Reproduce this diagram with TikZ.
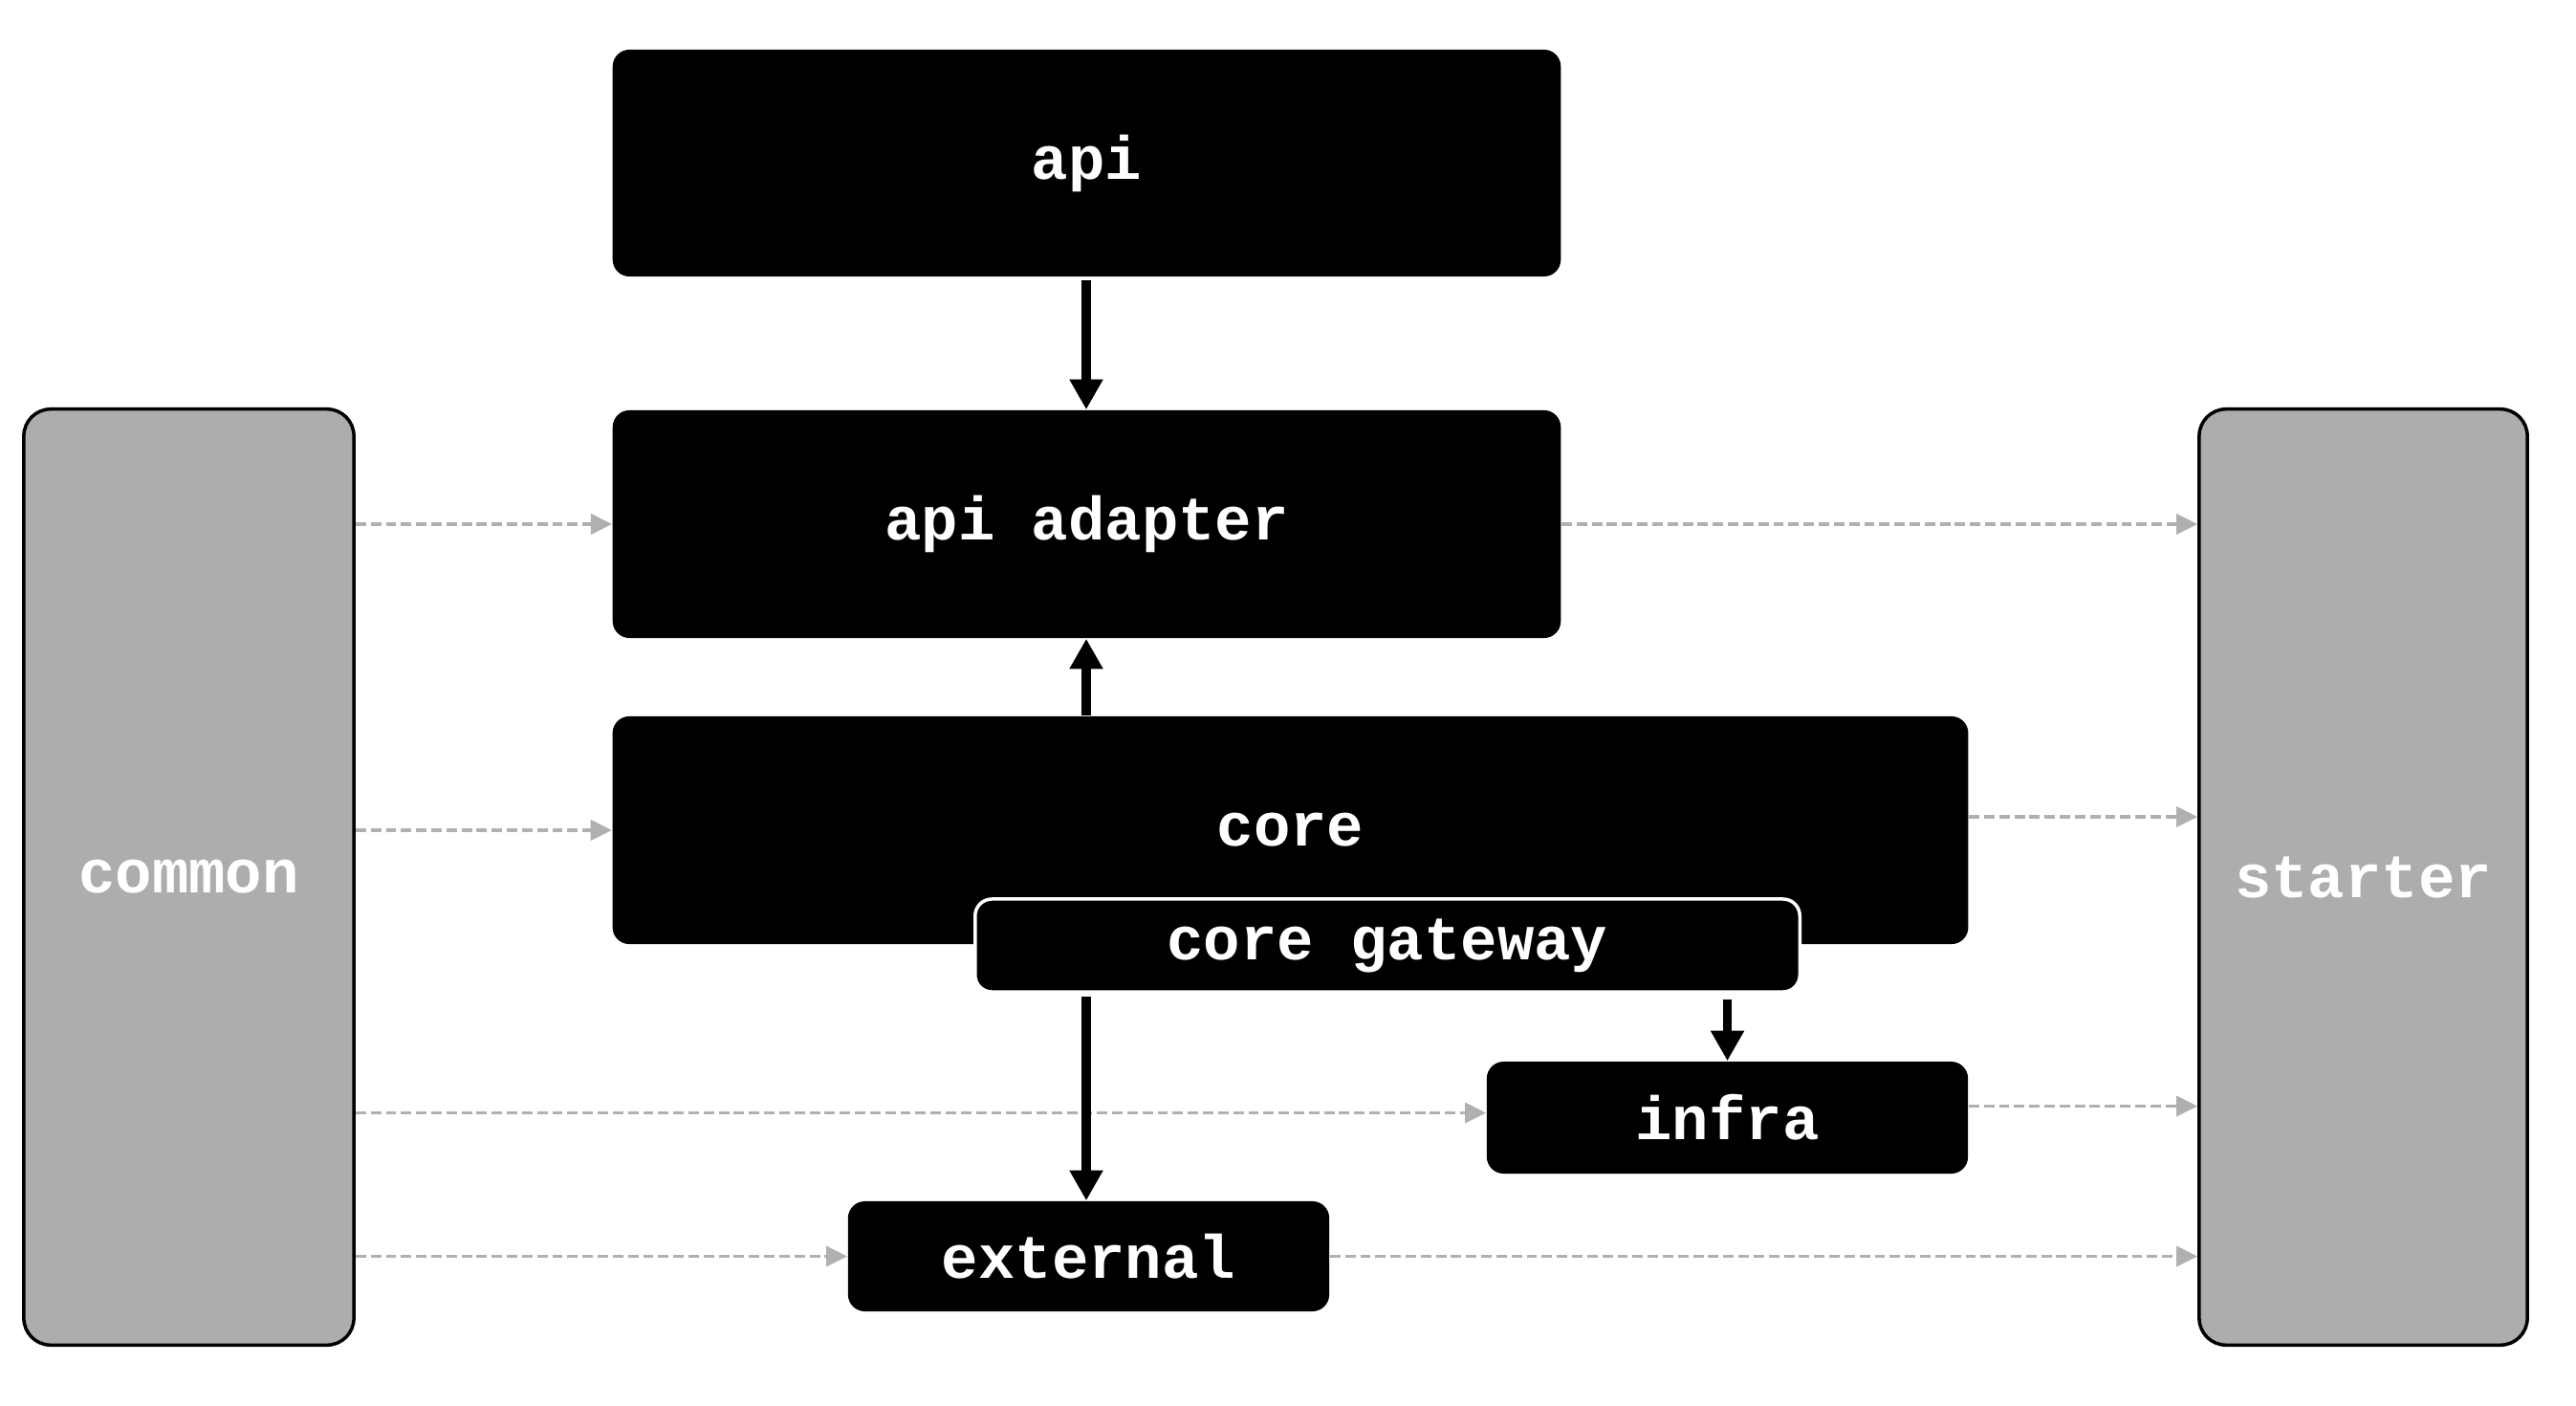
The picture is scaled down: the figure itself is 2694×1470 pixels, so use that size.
\documentclass[tikz,border=0pt]{standalone}
\usepackage{fontspec}
\setmonofont{Liberation Mono}
\usetikzlibrary{arrows.meta,calc}
\definecolor{boxgray}{RGB}{173,173,173}
\definecolor{dashgray}{RGB}{176,176,176}
\begin{document}
\begin{tikzpicture}[x=0.01cm,y=-0.01cm,
  lbl/.style={text=white, font=\ttfamily\bfseries\fontsize{18.2}{22}\selectfont, inner sep=0pt},
  blk/.style={lbl, fill=black, rounded corners=5pt},
  gw/.style={blk, draw=white, line width=1pt},
  side/.style={lbl, fill=boxgray, draw=black, line width=1pt, rounded corners=8pt},
  dep/.style={draw=black, line width=2.8pt, -{Triangle[length=9pt,width=9.4pt]}},
  opt/.style={draw=dashgray, line width=1.1pt, dash pattern=on 3.1pt off 1.4pt, -{Triangle[length=6.3pt,width=6pt]}},
]
\useasboundingbox[fill=white] (0,0) rectangle (2694,1470);
% side boxes
\node[side, minimum width=3.45cm, minimum height=9.78cm] (common) at (197.5,917) {common};
\node[side, minimum width=3.43cm, minimum height=9.78cm] (starter) at (2471.5,917) {starter};
% main boxes
\node[blk, minimum width=9.91cm, minimum height=2.37cm] (api) at (1136.5,170.5) {api};
\node[blk, minimum width=9.91cm, minimum height=2.38cm] (adapter) at (1136.5,548) {api adapter};
\node[blk, minimum width=14.17cm, minimum height=2.38cm] (core) at (1349.5,868) {core};
\node[gw, minimum width=8.62cm, minimum height=0.97cm] (gateway) at (1451,988.5) {core gateway};
\node[blk, minimum width=5.03cm, minimum height=1.17cm] (infra) at (1806.5,1168.5) {infra};
\node[blk, minimum width=5.03cm, minimum height=1.15cm] (external) at (1138.5,1313.5) {external};
% dashed dependencies
\coordinate (ci) at ($(infra.west)+(0,-5)$);
\coordinate (co) at ($(core.east)+(0,-14)$);
\coordinate (io) at ($(infra.east)+(0,-12)$);
\draw[opt] (common.east |- adapter.west) -- (adapter.west);
\draw[opt] (common.east |- core.west) -- (core.west);
\draw[opt] (common.east |- ci) -- (ci);
\draw[opt] (common.east |- external.west) -- (external.west);
\draw[opt] (adapter.east) -- (adapter.east -| starter.west);
\draw[opt] (co) -- (co -| starter.west);
\draw[opt] (io) -- (io -| starter.west);
\draw[opt] (external.east) -- (external.east -| starter.west);
% solid dependencies
\coordinate (ax) at (1136,0);
\draw[dep] ($(api.south -| ax)+(0,3)$) -- (adapter.north -| ax);
\draw[dep] (core.north -| ax) -- (adapter.south -| ax);
\draw[dep] ($(gateway.south -| ax)+(0,3)$) -- (external.north -| ax);
\draw[dep] ($(gateway.south -| infra.north)+(0,6)$) -- (infra.north);
\end{tikzpicture}
\end{document}
